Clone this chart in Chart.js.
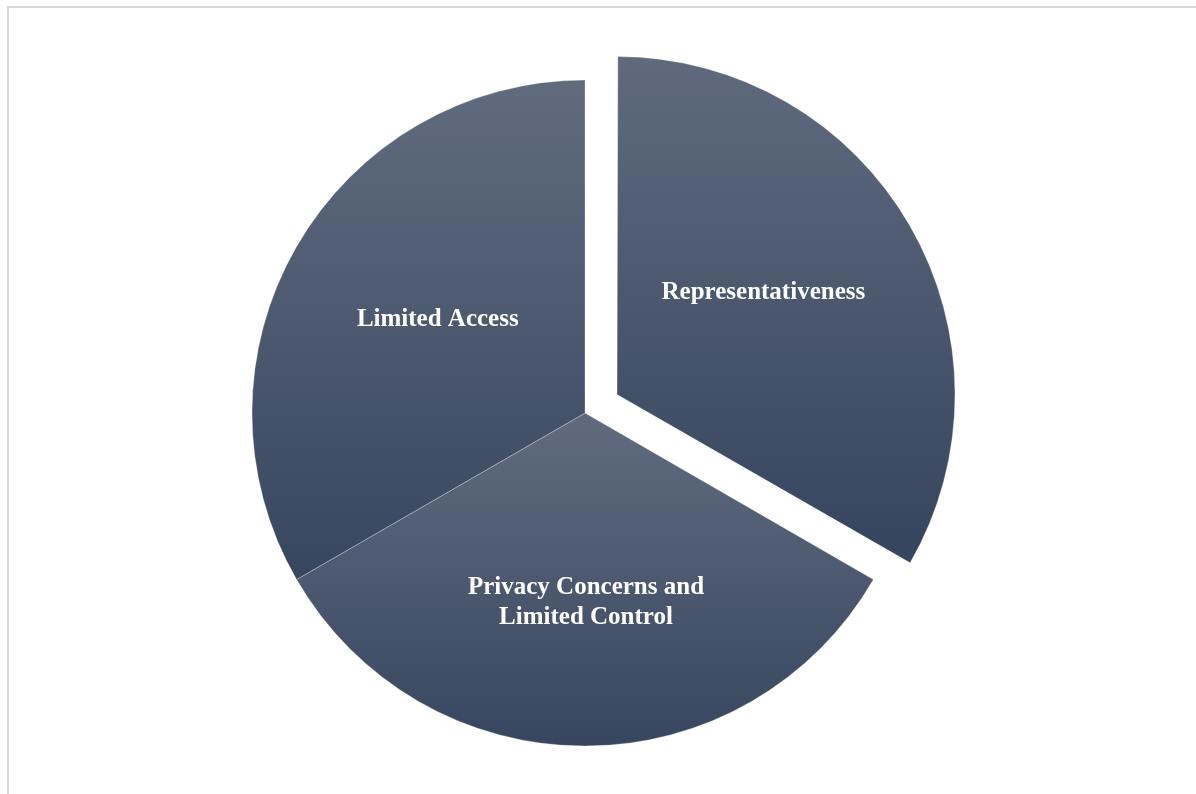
<!DOCTYPE html>
<html>
<head>
<meta charset="utf-8">
<script src="https://cdn.jsdelivr.net/npm/chart.js@4.4.1/dist/chart.umd.min.js"></script>
<style>
  html,body{margin:0;padding:0;background:#fff;overflow:hidden;}
  #wrap{width:1196px;height:794px;position:relative;}
</style>
</head>
<body>
<div id="wrap"><canvas id="pie"></canvas></div>
<script>
// ---- data ----
const labels = ['Representativeness', 'Privacy Concerns and Limited Control', 'Limited Access'];
const labelLines = [['Representativeness'], ['Privacy Concerns and', 'Limited Control'], ['Limited Access']];
const values = [1, 1, 1];
const explode = [148, 0, 0];   // Chart.js arc offset

// ---- style ----
const TOP_COL = '#606b7e';
const BOT_COL = '#37465f';
const LABEL_FONT = 'bold 25px "Liberation Serif", "DejaVu Serif", serif';
const LABEL_DIST = [0.52, 0.568, 0.523];   // ラベル位置（半径比）
const LABEL_TURN = [-4.9, -0.3, 2.3];      // 二等分線からのずれ（度）
const RADIUS = 333;

// 実際の描画オフセット（ArcElement.draw と同じ計算）
function arcShift(offset, circ){
  const fix = 1 - Math.sin(Math.min(Math.PI, circ));
  return offset/4*(1+fix);
}

// スライスごとの縦グラデーション（上が明るく下が暗い）
function sliceGradient(ctx){
  const chart = ctx.chart, area = chart.chartArea;
  if(!area) return BOT_COL;
  const i = ctx.dataIndex;
  const total = values.reduce((a,b)=>a+b,0);
  let cum = 0; for(let k=0;k<i;k++) cum += values[k];
  const a0 = -Math.PI/2 + 2*Math.PI*cum/total;
  const a1 = a0 + 2*Math.PI*values[i]/total;
  const mid = (a0+a1)/2;
  const sh = arcShift(explode[i], a1-a0);
  const cy = (area.top+area.bottom)/2 + Math.sin(mid)*sh;
  let ys = [cy, cy+RADIUS*Math.sin(a0), cy+RADIUS*Math.sin(a1)];
  const within = a => { for(let t=a-4*Math.PI;t<=a+4*Math.PI;t+=2*Math.PI){ if(t>=a0&&t<=a1) return true; } return false; };
  if(within(Math.PI/2)) ys.push(cy+RADIUS);
  if(within(-Math.PI/2)) ys.push(cy-RADIUS);
  const g = chart.ctx.createLinearGradient(0, Math.min(...ys), 0, Math.max(...ys));
  g.addColorStop(0, TOP_COL);
  g.addColorStop(1, BOT_COL);
  return g;
}

const frame = {
  id:'frame',
  beforeDraw(chart){
    const c = chart.ctx;
    c.save();
    c.strokeStyle = '#d9d9d9';
    c.lineWidth = 2;
    c.strokeRect(8, 7, 1300, 900);
    c.restore();
  }
};

const sliceLabels = {
  id:'sliceLabels',
  afterDatasetsDraw(chart){
    const c = chart.ctx;
    const arcs = chart.getDatasetMeta(0).data;
    c.save();
    c.font = LABEL_FONT;
    c.fillStyle = '#ffffff';
    c.textAlign = 'center';
    c.textBaseline = 'middle';
    arcs.forEach((arc, i) => {
      const mid = (arc.startAngle + arc.endAngle)/2;
      const sh = arcShift(explode[i], arc.endAngle - arc.startAngle);
      const cx = arc.x + Math.cos(mid)*sh, cy = arc.y + Math.sin(mid)*sh;
      const a = mid + LABEL_TURN[i]*Math.PI/180;
      const d = arc.outerRadius*LABEL_DIST[i];
      const x = cx + Math.cos(a)*d;
      const y = cy + Math.sin(a)*d;
      const lines = labelLines[i];
      const lh = 30;
      lines.forEach((ln, j) => {
        c.fillText(ln, x, y + (j - (lines.length-1)/2)*lh);
      });
    });
    c.restore();
  }
};

new Chart(document.getElementById('pie'), {
  type:'pie',
  data:{
    labels,
    datasets:[{
      data: values,
      backgroundColor: sliceGradient,
      borderColor: 'rgba(255,255,255,0.35)',
      borderWidth: 0.8,
      offset: explode,
    }]
  },
  options:{
    responsive:true, maintainAspectRatio:false, animation:false,
    radius: RADIUS,
    layout:{padding:{left:0, right:26, top:32, bottom:0}},
    plugins:{legend:{display:false}, tooltip:{enabled:false}}
  },
  plugins:[frame, sliceLabels]
});
</script>
</body>
</html>
